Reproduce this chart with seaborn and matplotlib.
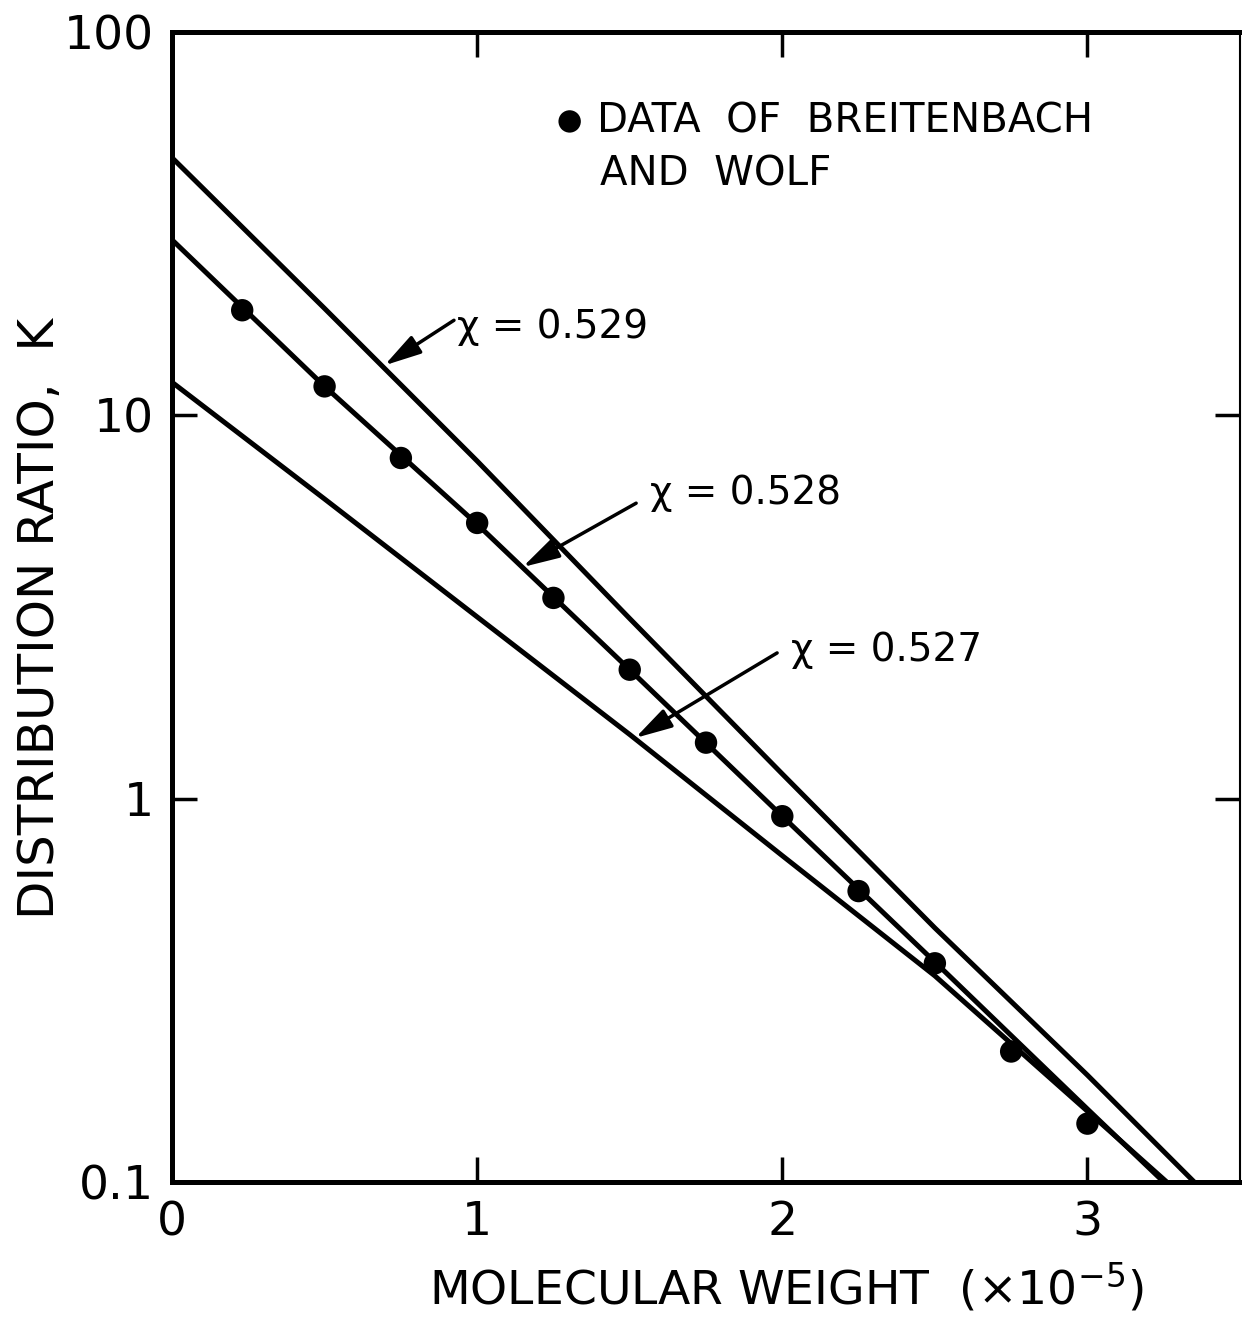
import numpy as np
import pandas as pd
import seaborn as sns
import matplotlib.pyplot as plt
from matplotlib.ticker import FixedLocator, FixedFormatter, NullLocator

# Measured distribution ratios (Breitenbach and Wolf)
mw_points = [0.23, 0.5, 0.75, 1.0, 1.25, 1.5, 1.75, 2.0, 2.25, 2.5, 2.75, 3.0]
k_points = [18.8, 11.9, 7.74, 5.24, 3.34, 2.17, 1.40, 0.90, 0.574, 0.372, 0.219, 0.142]

# Calculated curves for three interaction parameters
mw_529 = [0.0, 0.5, 1.0, 1.5, 2.0, 2.5, 3.0, 3.35]
k_529 = [47.0, 19.0, 7.6, 2.95, 1.16, 0.46, 0.19, 0.10]

mw_528 = [0.0, 0.5, 1.0, 1.5, 2.0, 2.5, 3.0, 3.25]
k_528 = [28.7, 11.9, 5.2, 2.17, 0.90, 0.375, 0.155, 0.10]

mw_527 = [0.0, 0.5, 1.0, 1.5, 2.0, 2.5, 3.0, 3.26]
k_527 = [12.2, 6.05, 2.98, 1.47, 0.71, 0.345, 0.153, 0.10]

chi_labels = ["χ = 0.529", "χ = 0.528", "χ = 0.527"]

x_ticks = [0, 1, 2, 3]
x_tick_labels = ["0", "1", "2", "3"]
y_ticks = [0.1, 1, 10, 100]
y_tick_labels = ["0.1", "1", "10", "100"]

sns.set_theme(style="ticks")
plt.rcParams["font.family"] = ["DejaVu Sans"]
plt.rcParams["mathtext.fontset"] = "dejavusans"
for key in ["text.color", "axes.labelcolor", "xtick.color", "ytick.color",
            "axes.edgecolor"]:
    plt.rcParams[key] = "black"

fig = plt.figure(figsize=(12.42, 13.17), dpi=100)
ax = fig.add_axes([0.1385, 0.1025, 0.8599, 0.8732])

curves = [(mw_529, k_529), (mw_528, k_528), (mw_527, k_527)]
for (mx, kk) in curves:
    df = pd.DataFrame({"mw": mx, "K": kk})
    sns.lineplot(data=df, x="mw", y="K", ax=ax, color="black", lw=3.6,
                 estimator=None, sort=False, zorder=2)

pts = pd.DataFrame({"mw": mw_points, "K": k_points})
sns.scatterplot(data=pts, x="mw", y="K", ax=ax, color="black", s=260,
                edgecolor="none", zorder=3, label="DATA  OF  BREITENBACH")

ax.set_yscale("log")
ax.set_xlim(0, 3.5)
ax.set_ylim(0.1, 100)

ax.xaxis.set_major_locator(FixedLocator(x_ticks))
ax.xaxis.set_major_formatter(FixedFormatter(x_tick_labels))
ax.yaxis.set_major_locator(FixedLocator(y_ticks))
ax.yaxis.set_major_formatter(FixedFormatter(y_tick_labels))
ax.xaxis.set_minor_locator(NullLocator())
ax.yaxis.set_minor_locator(NullLocator())

ax.tick_params(axis="both", which="major", direction="in", length=18, width=2.5,
               top=True, right=True, color="black", labelcolor="black",
               labelsize=34, pad=13)

for side in ["left", "bottom", "top"]:
    ax.spines[side].set_linewidth(3.6)
    ax.spines[side].set_color("black")
ax.spines["right"].set_linewidth(1.5)
ax.spines["right"].set_color("black")

ax.set_xlabel("MOLECULAR WEIGHT  (×10$^{-5}$)", fontsize=34, color="black")
ax.xaxis.set_label_coords(0.575, -0.068)
ax.set_ylabel("DISTRIBUTION RATIO,  K", fontsize=36, color="black")
ax.yaxis.set_label_coords(-0.101, 0.49)

# Labelled arrows pointing at each calculated curve
arrow_specs = [
    ((0.924, 17.7), (0.696, 13.5), (0.934, 17.0)),
    ((1.521, 5.90), (1.149, 4.02), (1.568, 6.27)),
    ((1.983, 2.40), (1.518, 1.44), (2.03, 2.44)),
]
for label, (tail, tip, tpos) in zip(chi_labels, arrow_specs):
    ax.annotate("", xy=tip, xytext=tail,
                arrowprops=dict(arrowstyle="-|>,head_length=0.8,head_width=0.22",
                                color="black", lw=2.5, shrinkA=0, shrinkB=0,
                                mutation_scale=28))
    ax.text(tpos[0], tpos[1], label, fontsize=28, ha="left", va="center")

leg = ax.legend(loc="upper left", bbox_to_anchor=(0.361, 0.94), frameon=False,
                fontsize=29, handlelength=0.6, handletextpad=0.37,
                borderpad=0, borderaxespad=0)
ax.text(0.4007, 0.8757, "AND  WOLF", transform=ax.transAxes, fontsize=29,
        ha="left", va="center")

fig.savefig("out.png", dpi=100)
